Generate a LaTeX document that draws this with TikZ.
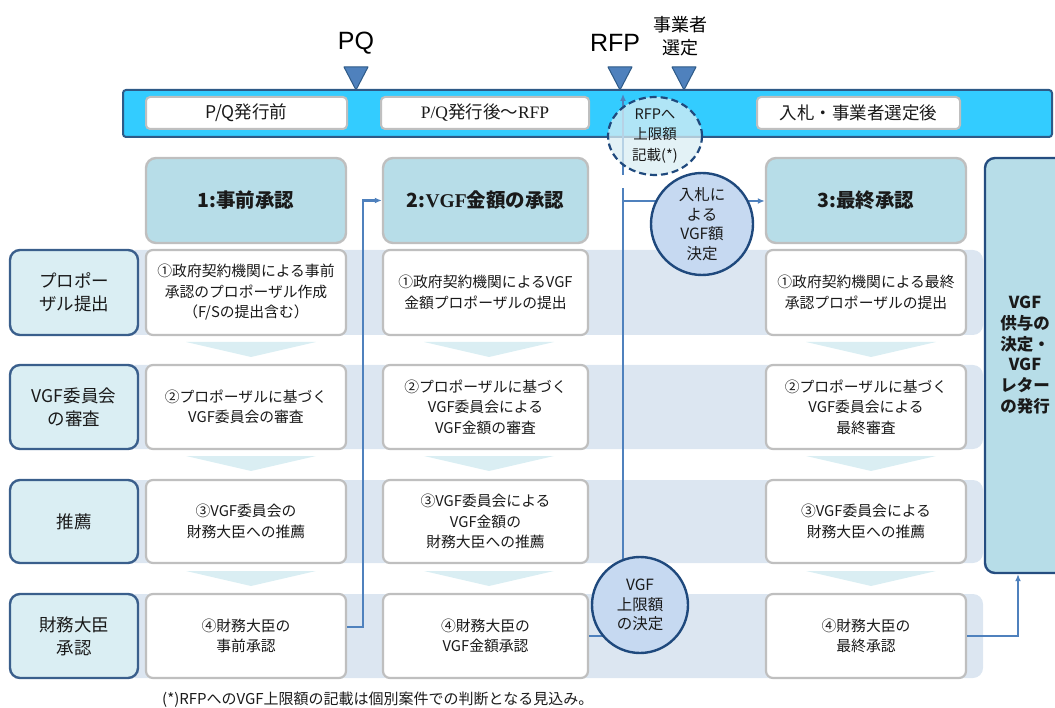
\documentclass[tikz,border=0pt]{standalone}
\usepackage{fontspec}
\setmainfont{Noto Sans CJK JP}
\newfontfamily\arialf{Liberation Sans}
\newfontfamily\timesf{Liberation Serif}
\usetikzlibrary{arrows.meta,calc,shapes.geometric}
\definecolor{barfill}{HTML}{33CCFF}
\definecolor{darkb}{HTML}{2E5A87}
\definecolor{trifill}{HTML}{4F81BD}
\definecolor{hdrfill}{HTML}{B7DDE8}
\definecolor{boxgray}{HTML}{BFBFBF}
\definecolor{labfill}{HTML}{DAEEF3}
\definecolor{labline}{HTML}{3A5F8C}
\definecolor{bandc}{HTML}{DCE6F1}
\definecolor{chevc}{HTML}{DAEEF3}
\definecolor{connc}{HTML}{4F81BD}
\definecolor{circfill}{HTML}{C6D9F1}
\definecolor{circline}{HTML}{1F497D}
\definecolor{tallline}{HTML}{254D80}
\definecolor{txt}{HTML}{1A1A1A}
\newcommand\mkbox[7]{\node[#2, minimum width={#5pt-#3pt}, minimum height={#6pt-#4pt}] (#1) at ({(#3+#5)/2},{(#4+#6)/2}) {#7};}
\tikzset{
  rowbox/.style={draw=boxgray, line width=2.2pt, fill=white, rounded corners=7pt, inner sep=0pt, align=center, text=txt, font=\fontsize{14.8}{20.5}\selectfont},
  hdrbox/.style={draw=boxgray, line width=2.4pt, fill=hdrfill, rounded corners=10pt, inner sep=0pt, align=center, text=txt, font=\fontsize{19.5}{22}\selectfont\bfseries},
  labbox/.style={draw=labline, line width=2.4pt, fill=labfill, rounded corners=10pt, inner sep=0pt, align=center, text=txt, font=\fontsize{17.5}{23}\selectfont},
  barbox/.style={draw=boxgray, line width=2pt, fill=white, rounded corners=4pt, inner sep=0pt, align=center, text=txt, font=\fontsize{17.5}{18}\selectfont},
  tallbox/.style={draw=tallline, line width=2.4pt, fill=hdrfill, rounded corners=10pt, inner sep=0pt, align=center, text=txt},
  circ/.style={circle, draw=circline, line width=2.4pt, fill=circfill, inner sep=0pt, align=center, text=txt, font=\fontsize{15.5}{19.5}\selectfont},
  dcirc/.style={ellipse, draw=circline, line width=2.2pt, dash pattern=on 7pt off 4pt, fill=labfill, fill opacity=0.75, text opacity=1, inner sep=0pt, align=center, text=txt, font=\fontsize{14.5}{20.5}\selectfont},
  conn/.style={draw=connc, line width=2.3pt},
  arr/.style={conn, -{Latex[length=7pt,width=6pt]}},
  tri/.style={fill=trifill, draw=darkb, line width=1pt, line join=round},
  toplab/.style={inner sep=0pt, align=center, text=black},
}
\begin{document}
\begin{tikzpicture}[x=1pt,y=-1pt]
\useasboundingbox (0,0) rectangle (1055,708);
% row bands
\foreach \a/\b in {250/335,365/449,480/563,594/678}
  \fill[bandc, rounded corners=10pt] (125,\a) rectangle (983,\b);
% chevrons
\foreach \y in {342,456,571}
  \foreach \cx in {251,489,871}
    \fill[chevc] (\cx-65,\y) -- (\cx+65,\y) -- (\cx,\y+15) -- cycle;
% row labels
\mkbox{lab1}{labbox}{10}{250}{138}{335}{プロポー\\ザル提出}
\mkbox{lab2}{labbox}{10}{365}{138}{449}{VGF委員会\\の審査}
\mkbox{lab3}{labbox}{10}{480}{138}{563}{推薦}
\mkbox{lab4}{labbox}{10}{594}{138}{678}{財務大臣\\承認}
% headers
\mkbox{h1}{hdrbox}{146}{158}{346}{243}{1:事前承認}
\mkbox{h2}{hdrbox}{383}{158}{588}{243}{2:{\timesf\bfseries VGF}金額の承認}
\mkbox{h3}{hdrbox}{766}{158}{966}{243}{3:最終承認}
% column 1
\mkbox{c1r1}{rowbox}{146}{250}{346}{335}{①政府契約機関による事前\\承認のプロポーザル作成\\（F/Sの提出含む）}
\mkbox{c1r2}{rowbox}{146}{365}{346}{449}{②プロポーザルに基づく\\VGF委員会の審査}
\mkbox{c1r3}{rowbox}{146}{480}{346}{563}{③VGF委員会の\\財務大臣への推薦}
\mkbox{c1r4}{rowbox}{146}{594}{346}{678}{④財務大臣の\\事前承認}
% column 2
\mkbox{c2r1}{rowbox}{383}{250}{588}{335}{①政府契約機関によるVGF\\金額プロポーザルの提出}
\mkbox{c2r2}{rowbox}{383}{365}{588}{449}{②プロポーザルに基づく\\VGF委員会による\\VGF金額の審査}
\mkbox{c2r3}{rowbox}{383}{480}{588}{563}{③VGF委員会による\\VGF金額の\\財務大臣への推薦}
\mkbox{c2r4}{rowbox}{383}{594}{588}{678}{④財務大臣の\\VGF金額承認}
% column 3
\mkbox{c3r1}{rowbox}{766}{250}{966}{335}{①政府契約機関による最終\\承認プロポーザルの提出}
\mkbox{c3r2}{rowbox}{766}{365}{966}{449}{②プロポーザルに基づく\\VGF委員会による\\最終審査}
\mkbox{c3r3}{rowbox}{766}{480}{966}{563}{③VGF委員会による\\財務大臣への推薦}
\mkbox{c3r4}{rowbox}{766}{594}{966}{678}{④財務大臣の\\最終承認}
% tall box
\mkbox{tall}{tallbox}{985}{158}{1065}{573}{}
\node[toplab, font=\fontsize{16.5}{20.7}\selectfont\bfseries, text=txt] (talltxt) at (1025,355) {VGF\\供与の\\決定・\\VGF\\レター\\の発行};
% timeline bar
\node[draw=darkb, line width=2pt, fill=barfill, rounded corners=3pt, minimum width=929pt, minimum height=47pt, inner sep=0pt] (bar) at (587.5,113.5) {};
\mkbox{b1}{barbox}{146}{97}{347}{129}{P/Q発行前}
\mkbox{b2}{barbox}{381}{97}{589}{129}{{\timesf P/Q}発行後～{\timesf RFP}}
\mkbox{b3}{barbox}{757}{97}{960}{129}{入札・事業者選定後}
% milestone triangles and labels
\foreach \tx in {356,620,684}
  \draw[tri] (\tx-12,67) -- (\tx+12,67) -- (\tx,90) -- cycle;
\node[toplab, font=\arialf\fontsize{25}{26}\selectfont] (pq) at (356,43) {PQ};
\node[toplab, font=\arialf\fontsize{25}{26}\selectfont] (rfp) at (615,43) {RFP};
\node[toplab, font=\fontsize{18}{23}\selectfont] (sel) at (680,36) {事業者\\選定};
% connectors
\coordinate (tjtop) at (623,188);
\coordinate (tj) at (623,201);
\coordinate (rfpb) at (623,175);
\coordinate (rfpt) at (623,94);
\draw[arr] ([yshift=9pt]c1r4.east) -- ++(16,0) |- (h2.west);
\draw[conn] (c2r4.east) -- (640,636);
\draw[conn] (623,605) -- (tjtop);
\draw[arr] (tj) -- (h3.west |- tj);
\draw[arr] (c3r4.east) -| ([xshift=-7pt]tall.south);
\draw[arr] (rfpb) -- (rfpt);
% circles
\node[circ, minimum size=102pt] (bidc) at (702,224) {入札に\\よる\\VGF額\\決定};
\node[circ, minimum size=96pt] (capc) at (640,605) {VGF\\上限額\\の決定};
\node[dcirc, minimum width=94pt, minimum height=78pt] (rfpc) at (655,136) {RFPへ\\上限額\\記載(*)};
% footnote
\node[anchor=west, inner sep=0pt, text=txt, font=\fontsize{15}{16}\selectfont] (foot) at (162,700) {(*)RFPへのVGF上限額の記載は個別案件での判断となる見込み。};
\end{tikzpicture}
\end{document}
